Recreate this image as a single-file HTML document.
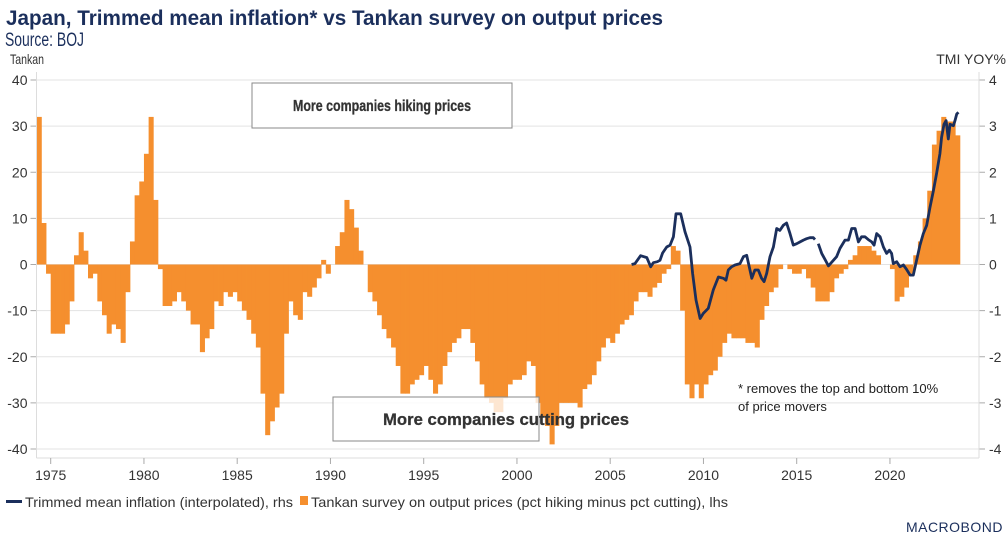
<!DOCTYPE html>
<html><head><meta charset="utf-8"><style>
body{margin:0;background:#fff;width:1008px;height:542px;overflow:hidden;font-family:"Liberation Sans",sans-serif}
</style></head><body>
<svg id="c" width="1008" height="542" xmlns="http://www.w3.org/2000/svg" font-family="Liberation Sans, sans-serif">
<text x="6" y="25" font-size="21" font-weight="bold" fill="#1b2f5c" textLength="657" lengthAdjust="spacingAndGlyphs">Japan, Trimmed mean inflation* vs Tankan survey on output prices</text>
<text x="5" y="46" font-size="19" fill="#1b2f5c" textLength="79" lengthAdjust="spacingAndGlyphs">Source: BOJ</text>
<text x="10" y="64" font-size="14" fill="#333" textLength="34" lengthAdjust="spacingAndGlyphs">Tankan</text>
<text x="1006" y="64" font-size="14" fill="#333" text-anchor="end">TMI YOY%</text>
<g id="grid"></g><g id="bars"></g><g id="line"></g><g id="axes"></g>
<g><rect x="252" y="83" width="260" height="45" fill="#fff" stroke="#888" stroke-width="1"/><text x="382" y="111" font-size="16" font-weight="bold" fill="#333" stroke="#333" stroke-width="0.3" text-anchor="middle" textLength="178" lengthAdjust="spacingAndGlyphs">More companies hiking prices</text></g>
<g><rect x="333" y="397" width="206" height="44" fill="#fff" fill-opacity="0.78" stroke="#888" stroke-width="1"/><text x="506" y="425" font-size="17" font-weight="bold" fill="#333" stroke="#333" stroke-width="0.3" text-anchor="middle" textLength="246" lengthAdjust="spacingAndGlyphs">More companies cutting prices</text></g>
<text x="738" y="393" font-size="13" fill="#222">* removes the top and bottom 10%</text>
<text x="738" y="411" font-size="13" fill="#222">of price movers</text>
<g>
<rect x="6" y="500" width="16" height="3" fill="#1b2f5c"/>
<text x="25" y="507" font-size="14" fill="#333" textLength="268" lengthAdjust="spacingAndGlyphs">Trimmed mean inflation (interpolated), rhs</text>
<rect x="300" y="496" width="8" height="9" fill="#f58f2e"/>
<text x="311" y="507" font-size="14" fill="#333" textLength="417" lengthAdjust="spacingAndGlyphs">Tankan survey on output prices (pct hiking minus pct cutting), lhs</text>
</g>
<text x="1003" y="532" font-size="14" fill="#1b2f5c" text-anchor="end" letter-spacing="0.5">MACROBOND</text>
</svg>
<script>
const tankanStart = 1974.25;
const tankan = [32,9,-2,-15,-15,-15,-13,-8,2,7,3,-3,-2,-8,-11,-15,-13,-14,-17,-6,5,15,18,24,32,14,-1,-9,-9,-8,-6,-8,-10,-13,-13,-19,-16,-14,-8,-9,-6,-7,-6,-8,-10,-12,-15,-18,-28,-37,-34,-31,-28,-15,-8,-11,-12,-6,-7,-5,-3,1,-2,0,4,7,14,12,8,3,0,-6,
-8,-11,-14,-16,-18,-22,-28,-28,-26,-25,-24,-22,-25,-28,-26,-22,-19,-17,-16,-14,-14,-17,-21,-26,-29,-30,-32,-32,-29,-26,-25,-25,-24,-21,-22,-30,-33,-35,-39,-35,-30,-30,-30,-30,-31,-27,-26,-24,-21,-18,-16,-17,-15,-13,-12,-11,-8,-6,-6,-7,-5,-4,-2,-1,4,3,
-10,-26,-29,-26,-29,-26,-24,-23,-20,-17,-15,-16,-16,-16,-17,-17,-18,-12,-9,-6,-5,-1,0,-1,-2,-2,-1,-3,-5,-8,-8,-8,-6,-3,-2,-1,1,2,4,4,4,3,2,0,0,-1,-8,-7,-5,-2,2,5,10,16,26,29,32,31,31,28];
const tmiDates = [2006.15,2006.33,2006.63,2006.96,2007.17,2007.31,2007.53,2007.67,2007.81,2008.03,2008.21,2008.39,2008.53,2008.78,2009.01,2009.28,2009.42,2009.60,2009.82,2009.99,2010.26,2010.53,2010.80,2011.07,2011.21,2011.33,2011.51,2011.69,2011.96,2012.14,2012.32,2012.59,2012.76,2012.94,2013.12,2013.25,2013.39,2013.57,2013.75,2013.93,2014.10,2014.28,2014.46,2014.64,2014.82,2015.00,2015.18,2015.36,2015.53,2015.71,2015.89,2015.98,
2016.16,2016.34,2016.52,2016.70,2016.97,2017.14,2017.32,2017.59,2017.77,2017.95,2018.13,2018.31,2018.48,2018.66,2018.84,2019.02,2019.15,2019.29,2019.47,2019.65,2019.82,2019.97,2020.09,2020.18,2020.36,2020.54,2020.72,2020.90,2021.08,2021.25,2021.43,2021.61,2021.79,2021.97,2022.15,2022.33,2022.51,2022.68,2022.77,2022.90,2023.01,2023.13,2023.22,2023.40,2023.49,2023.58,2023.67];
const tmiValues = [0,0.02,0.19,0.15,-0.05,0.04,0.06,0.09,0.25,0.38,0.42,0.6,1.1,1.1,0.71,0.38,-0.19,-0.77,-1.17,-1.06,-0.95,-0.55,-0.27,-0.3,-0.34,-0.12,-0.05,-0.01,0.02,0.17,0.2,-0.3,-0.12,-0.12,-0.3,-0.37,-0.19,0.17,0.38,0.78,0.74,0.85,0.9,0.67,0.42,0.45,0.49,0.53,0.56,0.58,0.58,0.54,
0.45,0.24,0.11,-0.03,0.09,0.17,0.35,0.53,0.53,0.78,0.78,0.49,0.6,0.6,0.54,0.49,0.42,0.67,0.6,0.38,0.24,0.31,0.24,0.02,0.06,-0.05,-0.01,-0.11,-0.23,-0.23,0.09,0.42,0.67,0.85,1.24,1.6,2.0,2.4,2.76,3.04,3.12,2.72,3.04,3.01,3.12,3.26,3.3];
const gap = [2015.98];
const leftTicks = [40,30,20,10,0,-10,-20,-30,-40];
const rightTicks = [4,3,2,1,0,-1,-2,-3,-4];
const yearTicks = [1975,1980,1985,1990,1995,2000,2005,2010,2015,2020];

const NS='http://www.w3.org/2000/svg';
const L=36.5,R=979,T=80,B=449;
const x=t=>50.7+(t-1975)*18.65;
const yL=v=>264.5-(v/40)*(264.5-T);
const yR=v=>yL(v*10);
function mk(tag,attrs,parent){const e=document.createElementNS(NS,tag);for(const k in attrs)e.setAttribute(k,attrs[k]);parent.appendChild(e);return e;}
const grid=document.getElementById('grid'),bars=document.getElementById('bars'),line=document.getElementById('line'),axes=document.getElementById('axes');
leftTicks.forEach((v,i)=>{
  const g=mk('line',{x1:L,x2:R,y1:yL(v),y2:yL(v),stroke:'#e3e3e3','stroke-width':1},grid);
  
  
  mk('line',{x1:L-6,x2:L,y1:yL(v),y2:yL(v),stroke:'#aaa'},axes);
  const t=mk('text',{x:L-9,y:yL(v)+5,'font-size':14,fill:'#333','text-anchor':'end'},axes);t.textContent=v;
  
  
});
rightTicks.forEach(v=>{
  mk('line',{x1:R,x2:R+6,y1:yR(v),y2:yR(v),stroke:'#aaa'},axes);
  const t=mk('text',{x:R+10,y:yR(v)+5,'font-size':14,fill:'#333'},axes);t.textContent=v;
  
  
});
mk('line',{x1:L,x2:L,y1:T-8,y2:458,stroke:'#ddd'},axes);
mk('line',{x1:R,x2:R,y1:T-8,y2:458,stroke:'#ddd'},axes);
mk('line',{x1:L,x2:R,y1:458,y2:458,stroke:'#ddd'},axes);
yearTicks.forEach(yv=>{
  mk('line',{x1:x(yv),x2:x(yv),y1:458,y2:464,stroke:'#aaa'},axes);
  const t=mk('text',{x:x(yv),y:480,'font-size':14,fill:'#333','text-anchor':'middle'},axes);t.textContent=yv;
  
  
});
tankan.forEach((v,i)=>{
  const t0=tankanStart+i*0.25,x0=x(t0),x1=x(t0+0.25);
  const r=mk('rect',{x:x0,width:x1-x0+0.4,y:Math.min(yL(v),yL(0)),height:Math.abs(yL(v)-yL(0)),fill:'#f58f2e'},bars);
  
  
});
let d='',pen=false;
tmiDates.forEach((t,i)=>{
  d+=(pen?'L':'M')+x(t).toFixed(1)+','+yR(tmiValues[i]).toFixed(1);
  pen=!gap.includes(t);
});
const p=mk('path',{d:d,fill:'none',stroke:'#1b2f5c','stroke-width':2.8,'stroke-linejoin':'round'},line);


</script>
</body></html>
